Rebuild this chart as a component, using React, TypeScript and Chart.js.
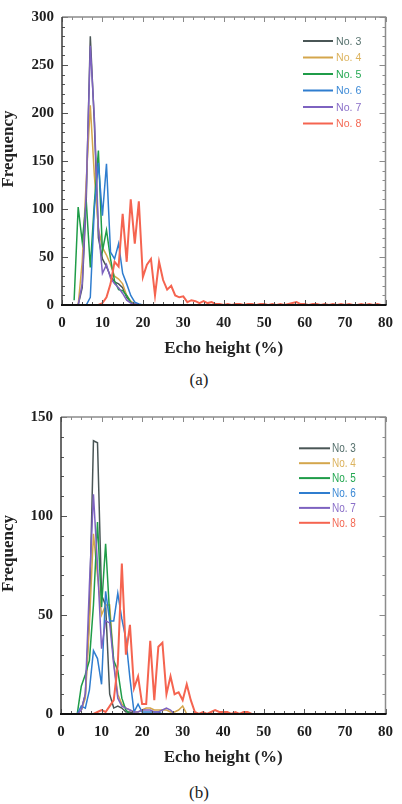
import React, { useEffect, useRef } from "react";
import { Chart, registerables } from "chart.js";

Chart.register(...registerables);

const SERIF = '"Liberation Serif", "Times New Roman", serif';
const SANS = '"Liberation Sans", Arial, sans-serif';

const seriesNames = ["No. 3", "No. 4", "No. 5", "No. 6", "No. 7", "No. 8"];
const lineColors = ["#4a5656", "#d4a64c", "#1f9c48", "#2f7dcf", "#7d62c0", "#f56450"];
const legendTextColors = ["#55706c", "#dcb35e", "#24a852", "#3d8ad6", "#8a6fc8", "#f46a55"];

// Echo-height histograms, 1 % bins. Each series lists counts from its *Start bin.
// Panel (a)
const a3Start = 4;
const a3 = [0, 18, 110, 280, 190, 70, 48, 40, 30, 24, 22, 18, 8, 3, 1, 0];
const a4Start = 4;
const a4 = [0, 45, 130, 208, 135, 80, 60, 52, 42, 30, 27, 22, 10, 4, 1, 0];
const a5Start = 3;
const a5 = [5, 102, 66, 108, 39, 106, 161, 56, 78, 48, 25, 16, 15, 10, 3, 0];
const a6Start = 6;
const a6 = [0, 8, 100, 148, 93, 147, 55, 48, 64, 33, 22, 10, 3, 1, 0];
const a7Start = 4;
const a7 = [0, 22, 120, 270, 195, 80, 33, 42, 28, 22, 18, 12, 5, 2, 1, 0];
const a8Start = 9;
const a8 = [
  0, 2, 8, 22, 45, 40, 95, 45, 110, 64, 108, 29, 42, 48, 10, 45, 26, 16, 20, 10,
  8, 9, 3, 5, 4, 2, 4, 2, 3, 1, 1, 0, 1, 0, 1, 1, 0, 1, 1, 0,
  1, 1, 0, 1, 0, 1, 0, 1, 2, 3, 1, 1, 0, 1, 1, 0, 1, 0, 1, 0,
  1, 0, 1, 0, 0, 1, 0, 1, 0, 1, 0, 0,
];

// Panel (b)
const b3Start = 5;
const b3 = [2, 10, 50, 138, 137, 60, 55, 10, 3, 4, 3, 1, 1, 0];
const b4Start = 4;
const b4 = [0, 2, 8, 45, 91, 70, 50, 55, 55, 26, 10, 5, 3, 2, 1, 1, 2, 3, 3, 2, 2, 2, 2, 1, 1, 2, 4, 0];
const b5Start = 4;
const b5 = [0, 14, 20, 27, 55, 97, 54, 86, 50, 27, 22, 8, 2, 0];
const b6Start = 4;
const b6 = [0, 4, 3, 12, 32, 28, 15, 62, 47, 47, 61, 48, 38, 18, 1, 5, 1, 1, 1, 1, 1, 0];
const b7Start = 4;
const b7 = [0, 2, 10, 65, 111, 75, 33, 47, 46, 25, 8, 4, 3, 2, 1, 1, 2, 2, 2, 1, 1, 2, 3, 2, 0];
const b8Start = 8;
const b8 = [
  0, 1, 2, 1, 4, 7, 25, 76, 30, 45, 13, 19, 5, 5, 37, 7, 34, 36, 10, 19,
  10, 11, 7, 15, 7, 1, 0, 1, 0, 1, 2, 1, 1, 1, 0, 1, 0, 1, 1, 0,
  0, 0, 0, 0, 0, 0, 0, 0, 0, 0, 0, 0, 0, 0, 0, 0, 0, 0, 0, 0,
  0, 0, 0,
];

const xTitle = "Echo height (%)";
const yTitle = "Frequency";

type Series = { start: number; values: number[] };

type PanelSpec = {
  series: Series[];
  yMax: number;
  canvasHeight: number;
  padTop: number;
  padRight: number;
  yAxisWidth: number;
  xAxisHeight: number;
  xTitleY: number;
  legendLineX: [number, number];
  legendTextX: number;
  legendTop: number;
  legendStep: number;
  legendFont: number;
  legendSquash: number;
};

const panelA: PanelSpec = {
  series: [
    { start: a3Start, values: a3 },
    { start: a4Start, values: a4 },
    { start: a5Start, values: a5 },
    { start: a6Start, values: a6 },
    { start: a7Start, values: a7 },
    { start: a8Start, values: a8 },
  ],
  yMax: 300,
  canvasHeight: 365,
  padTop: 11,
  padRight: 14,
  yAxisWidth: 62,
  xAxisHeight: 60,
  xTitleY: 349,
  legendLineX: [303, 333],
  legendTextX: 336,
  legendTop: 41,
  legendStep: 16.5,
  legendFont: 11.5,
  legendSquash: 0.92,
};

const panelB: PanelSpec = {
  series: [
    { start: b3Start, values: b3 },
    { start: b4Start, values: b4 },
    { start: b5Start, values: b5 },
    { start: b6Start, values: b6 },
    { start: b7Start, values: b7 },
    { start: b8Start, values: b8 },
  ],
  yMax: 150,
  canvasHeight: 372,
  padTop: 16,
  padRight: 12,
  yAxisWidth: 61,
  xAxisHeight: 58,
  xTitleY: 358,
  legendLineX: [299, 330],
  legendTextX: 332,
  legendTop: 48.3,
  legendStep: 14.9,
  legendFont: 12.5,
  legendSquash: 0.8,
};

const toPoints = (s: Series) => s.values.map((v, i) => ({ x: s.start + i, y: v }));

// Frame, inward tick marks, axis titles and the in-plot legend.
const decorPlugin = {
  id: "panelDecor",
  afterDatasetsDraw(chart: any, _args: any, opts: any) {
    const spec: PanelSpec = opts.spec;
    const { ctx } = chart;
    const { left, right, top, bottom } = chart.chartArea;
    const xs = chart.scales.x;
    const ys = chart.scales.y;
    ctx.save();

    // minor / major ticks pointing into the plot
    const drawXTicks = (v: number, len: number) => {
      const px = Math.round(xs.getPixelForValue(v)) + 0.5;
      ctx.strokeStyle = "#555";
      ctx.beginPath();
      ctx.moveTo(px, bottom);
      ctx.lineTo(px, bottom - len);
      ctx.stroke();
      ctx.strokeStyle = "#8a8a8a";
      ctx.beginPath();
      ctx.moveTo(px, top);
      ctx.lineTo(px, top + len);
      ctx.stroke();
    };
    const drawYTicks = (v: number, len: number) => {
      const py = Math.round(ys.getPixelForValue(v)) + 0.5;
      ctx.strokeStyle = "#555";
      ctx.beginPath();
      ctx.moveTo(left, py);
      ctx.lineTo(left + len, py);
      ctx.stroke();
      ctx.strokeStyle = "#8a8a8a";
      ctx.beginPath();
      ctx.moveTo(right, py);
      ctx.lineTo(right - len, py);
      ctx.stroke();
    };
    ctx.lineWidth = 1;
    for (let v = 0; v <= 80; v += 2.5) drawXTicks(v, v % 10 === 0 ? 5 : 3);
    for (let v = 0; v <= spec.yMax; v += 10) drawYTicks(v, v % 50 === 0 ? 6 : 3);

    // frame: dark left/bottom, grey top/right
    ctx.lineWidth = 1.5;
    ctx.strokeStyle = "#8c8c8c";
    ctx.beginPath();
    ctx.moveTo(left, top);
    ctx.lineTo(right, top);
    ctx.lineTo(right, bottom);
    ctx.stroke();
    ctx.strokeStyle = "#3a3a3a";
    ctx.beginPath();
    ctx.moveTo(left, top);
    ctx.lineTo(left, bottom);
    ctx.stroke();
    ctx.lineWidth = 2;
    ctx.strokeStyle = "#111";
    ctx.beginPath();
    ctx.moveTo(left - 1, bottom);
    ctx.lineTo(right + 1, bottom);
    ctx.stroke();

    // axis titles
    ctx.fillStyle = "#222";
    ctx.font = `bold 17px ${SERIF}`;
    ctx.textAlign = "center";
    ctx.textBaseline = "middle";
    ctx.fillText(xTitle, (left + right) / 2, spec.xTitleY);
    ctx.save();
    ctx.translate(9, (top + bottom) / 2 - 12);
    ctx.rotate(-Math.PI / 2);
    ctx.fillText(yTitle, 0, 0);
    ctx.restore();

    // legend
    chart.data.datasets.forEach((ds: any, i: number) => {
      const y = spec.legendTop + i * spec.legendStep;
      ctx.strokeStyle = ds.borderColor;
      ctx.lineWidth = 2;
      ctx.beginPath();
      ctx.moveTo(spec.legendLineX[0], y);
      ctx.lineTo(spec.legendLineX[1], y);
      ctx.stroke();
      ctx.save();
      ctx.translate(spec.legendTextX, y);
      ctx.scale(spec.legendSquash, 1);
      ctx.fillStyle = legendTextColors[i];
      ctx.font = `${spec.legendFont}px ${SANS}`;
      ctx.textAlign = "left";
      ctx.textBaseline = "middle";
      ctx.fillText(ds.label, 0, 0.5);
      ctx.restore();
    });

    ctx.restore();
  },
};

function makeConfig(spec: PanelSpec): any {
  const tickFont = { family: SERIF, size: 15, weight: "bold" as const };
  return {
    type: "line",
    data: {
      datasets: spec.series.map((s, i) => ({
        label: seriesNames[i],
        data: toPoints(s),
        borderColor: lineColors[i],
        borderWidth: i === 5 ? 2 : 1.5,
        pointRadius: 0,
        tension: 0,
        fill: false,
        order: 5 - i,
      })),
    },
    options: {
      responsive: false,
      animation: false,
      devicePixelRatio: 1,
      layout: { padding: { top: spec.padTop, right: spec.padRight, left: 0, bottom: 0 } },
      plugins: {
        legend: { display: false },
        tooltip: { enabled: false },
        panelDecor: { spec },
      },
      scales: {
        x: {
          type: "linear",
          min: 0,
          max: 80,
          ticks: { stepSize: 10, font: tickFont, color: "#1e1e1e", padding: 9, maxRotation: 0 },
          grid: { display: false, drawTicks: false },
          border: { display: false },
          afterFit(s: any) {
            s.height = spec.xAxisHeight;
          },
        },
        y: {
          type: "linear",
          min: 0,
          max: spec.yMax,
          ticks: { stepSize: 50, font: tickFont, color: "#1e1e1e", padding: 8 },
          grid: { display: false, drawTicks: false },
          border: { display: false },
          afterFit(s: any) {
            s.width = spec.yAxisWidth;
          },
        },
      },
    },
    plugins: [decorPlugin],
  };
}

function Panel({ spec, top }: { spec: PanelSpec; top: number }) {
  const ref = useRef<HTMLCanvasElement>(null);
  useEffect(() => {
    const chart = new Chart(ref.current as HTMLCanvasElement, makeConfig(spec));
    return () => chart.destroy();
  }, [spec]);
  return (
    <canvas
      ref={ref}
      width={402}
      height={spec.canvasHeight}
      style={{ position: "absolute", left: 0, top, width: 402, height: spec.canvasHeight }}
    />
  );
}

const captionStyle = (top: number): React.CSSProperties => ({
  position: "absolute",
  left: 0,
  top,
  width: 398,
  textAlign: "center",
  fontFamily: SERIF,
  fontSize: 17,
  lineHeight: "20px",
  color: "#222",
});

export default function App() {
  return (
    <div style={{ position: "absolute", left: 0, top: 0, width: 402, height: 804, background: "#fff" }}>
      <Panel spec={panelA} top={0} />
      <div style={captionStyle(370)}>(a)</div>
      <Panel spec={panelB} top={400} />
      <div style={captionStyle(783)}>(b)</div>
    </div>
  );
}
